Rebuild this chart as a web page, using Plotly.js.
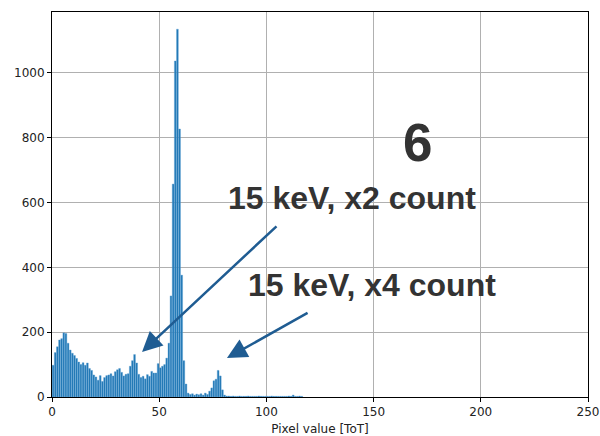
<!DOCTYPE html>
<html>
<head>
<meta charset="utf-8">
<script src="https://cdn.plot.ly/plotly-3.0.1.min.js"></script>
<style>html,body{margin:0;padding:0;background:#fff;}#chart{width:600px;height:436px;}</style>
</head>
<body>
<div id="chart"></div>
<script>
// Histogram counts per ToT bin (bin b spans b..b+1)
var binStart = 0;
var counts = [
  98, 137, 155, 176, 180, 198, 196, 166, 145, 135,
  128, 119, 108, 100, 106, 98, 105, 88, 82, 68,
  62, 52, 66, 48, 60, 66, 68, 72, 65, 78,
  84, 88, 76, 65, 70, 72, 95, 112, 131, 105,
  70, 60, 64, 56, 69, 64, 79, 74, 74, 103,
  90, 95, 100, 120, 166, 312, 657, 1037, 1135, 827,
  376, 112, 40, 12, 8, 10, 6, 9, 7, 10,
  6, 12, 8, 18, 28, 50, 55, 82, 65, 22,
  6, 3, 3, 2, 3, 2, 2, 3, 2, 2,
  2, 3, 2, 2, 2, 2, 3, 2, 2, 2,
  2, 2, 3, 2, 2, 2, 2, 2, 2, 2,
  3, 2, 6, 2, 2, 3, 2
];
var xTicks = [0, 50, 100, 150, 200, 250];
var yTicks = [0, 200, 400, 600, 800, 1000];
var xTitle = "Pixel value [ToT]";
var bigLabel = "6";
var label1 = "15 keV, x2 count";
var label2 = "15 keV, x4 count";

var xs = counts.map(function(_, i){ return binStart + i + 0.5; });

var trace = {
  type: 'bar',
  x: xs,
  y: counts,
  width: 0.82,
  marker: {color: '#1f77b4', line: {color: '#5b9fd4', width: 0.4}},
  hoverinfo: 'x+y'
};

var textFont = {family: 'Liberation Sans, Arial, sans-serif', size: 32, color: '#333333'};

var layout = {
  width: 600, height: 436,
  margin: {l: 52, r: 12, t: 12, b: 39},
  paper_bgcolor: '#ffffff',
  plot_bgcolor: '#ffffff',
  showlegend: false,
  bargap: 0,
  xaxis: {
    range: [0, 250],
    tickvals: xTicks,
    ticktext: xTicks.map(String),
    showgrid: true, gridcolor: '#b0b0b0', gridwidth: 1,
    zeroline: false,
    showline: true, linecolor: '#000000', linewidth: 1, mirror: true,
    ticks: 'outside', ticklen: 4, tickcolor: '#000000',
    tickfont: {family: 'DejaVu Sans, sans-serif', size: 12, color: '#222222'},
    title: {text: xTitle, font: {family: 'DejaVu Sans, sans-serif', size: 12, color: '#222222'}, standoff: 7}
  },
  yaxis: {
    range: [0, 1188],
    tickvals: yTicks,
    ticktext: yTicks.map(String),
    showgrid: true, gridcolor: '#b0b0b0', gridwidth: 1,
    zeroline: false,
    showline: true, linecolor: '#000000', linewidth: 1, mirror: true,
    ticks: 'outside', ticklen: 4, tickcolor: '#000000',
    tickfont: {family: 'DejaVu Sans, sans-serif', size: 12, color: '#222222'}
  },
  annotations: [
    {x: 170.5, y: 785, xref: 'x', yref: 'y', text: '<b>' + bigLabel + '</b>', showarrow: false,
     font: {family: 'Liberation Sans, Arial, sans-serif', size: 53, color: '#333333'}, xanchor: 'center', yanchor: 'middle'},
    {x: 139.7, y: 614, xref: 'x', yref: 'y', text: '<b>' + label1 + '</b>', showarrow: false,
     font: textFont, xanchor: 'center', yanchor: 'middle'},
    {x: 149.3, y: 346, xref: 'x', yref: 'y', text: '<b>' + label2 + '</b>', showarrow: false,
     font: textFont, xanchor: 'center', yanchor: 'middle'},
    {x: 42, y: 139, ax: 105.4, ay: 531, xref: 'x', yref: 'y', axref: 'x', ayref: 'y',
     text: '', showarrow: true, arrowhead: 2, arrowsize: 1.6, arrowwidth: 2.5, arrowcolor: '#1f5c92', standoff: 0},
    {x: 81.6, y: 120, ax: 119.9, ay: 262, xref: 'x', yref: 'y', axref: 'x', ayref: 'y',
     text: '', showarrow: true, arrowhead: 2, arrowsize: 1.6, arrowwidth: 2.5, arrowcolor: '#1f5c92', standoff: 0}
  ]
};

Plotly.newPlot('chart', [trace], layout, {staticPlot: true, displayModeBar: false});
</script>
</body>
</html>
